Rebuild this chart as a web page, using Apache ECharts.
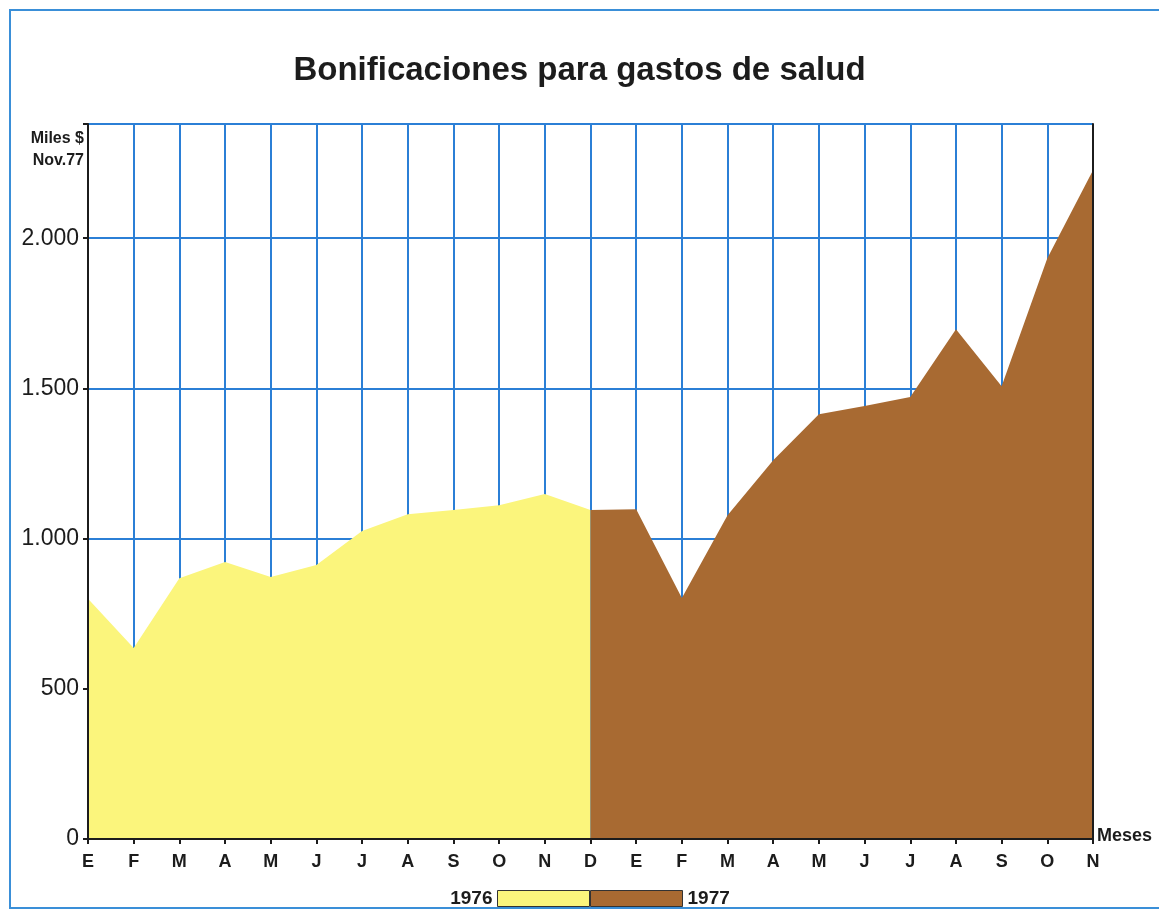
<!DOCTYPE html>
<html>
<head>
<meta charset="utf-8">
<script src="https://cdn.jsdelivr.net/npm/echarts@6/dist/echarts.min.js"></script>
<style>
  html, body { margin: 0; padding: 0; background: #fff; }
  #chart { width: 1159px; height: 913px; }
</style>
</head>
<body>
<div id="chart"></div>
<script>
// meses de 1976 (E..D) y 1977 (E..N)
var meses = ['E', 'F', 'M', 'A', 'M', 'J', 'J', 'A', 'S', 'O', 'N', 'D',
             'E', 'F', 'M', 'A', 'M', 'J', 'J', 'A', 'S', 'O', 'N'];
// valores (miles de $ nov.77)
var datos1976 = [800, 636, 868, 922, 872, 912, 1025, 1081, 1095, 1111, 1148, 1095];
var datos1977 = [1095, 1098, 802, 1078, 1261, 1414, 1441, 1471, 1697, 1507, 1933, 2226];
var yTicks = [0, 500, 1000, 1500, 2000];

var azul = '#2b7fd6';
var negro = '#1c1c1c';
var amarillo = '#fbf57c';
var cafe = '#a86a32';
var fuente = 'Liberation Sans, Arial, sans-serif';

// series alineadas con el eje de categorias
var serie76 = [], serie77 = [];
for (var i = 0; i < meses.length; i++) {
    serie76.push(i < datos1976.length ? datos1976[i] : null);
    var k = i - (datos1976.length - 1);
    serie77.push(k >= 0 ? datos1977[k] : null);
}

function fmtMiles(v) {
    if (yTicks.indexOf(v) < 0) return '';
    if (v >= 1000) {
        var s = String(v);
        return s.slice(0, s.length - 3) + '.' + s.slice(s.length - 3);
    }
    return String(v);
}

var myChart = echarts.init(document.getElementById('chart'));
var option = {
    backgroundColor: '#fff',
    animation: false,
    title: {
        text: 'Bonificaciones para gastos de salud',
        left: 'center',
        top: 49,
        textStyle: { fontFamily: fuente, fontWeight: 'bold', fontSize: 33, color: negro }
    },
    grid: { left: 88, right: 66, top: 124, bottom: 74 },
    legend: [{
        data: [{ name: '1976', icon: 'rect', itemStyle: { color: amarillo, borderColor: '#333', borderWidth: 1 } }],
        right: 569,
        top: 889,
        padding: 0,
        align: 'right',
        itemWidth: 92,
        itemHeight: 16,
        selectedMode: false,
        textStyle: { fontFamily: fuente, fontSize: 19, color: negro, fontWeight: 'bold' }
    }, {
        data: [{ name: '1977', icon: 'rect', itemStyle: { color: cafe, borderColor: '#333', borderWidth: 1 } }],
        left: 590,
        top: 889,
        padding: 0,
        align: 'left',
        itemWidth: 92,
        itemHeight: 16,
        selectedMode: false,
        textStyle: { fontFamily: fuente, fontSize: 19, color: negro, fontWeight: 'bold' }
    }],
    xAxis: [{
        // reticula vertical (debajo de las areas)
        type: 'category',
        data: meses,
        boundaryGap: false,
        axisLine: { show: false },
        axisTick: { show: false },
        axisLabel: { show: false },
        splitLine: { show: true, lineStyle: { color: azul, width: 2 } }
    }, {
        type: 'category',
        data: meses,
        boundaryGap: false,
        position: 'bottom',
        z: 10,
        axisLine: { show: true, lineStyle: { color: negro, width: 2 } },
        axisTick: { show: true, length: 5, lineStyle: { color: negro, width: 2 } },
        axisLabel: {
            interval: 0, margin: 14,
            fontFamily: fuente, fontWeight: 'bold', fontSize: 18, color: negro
        },
        splitLine: { show: false },
        name: 'Meses',
        nameLocation: 'end',
        nameGap: 4,
        nameTextStyle: {
            fontFamily: fuente, fontWeight: 'bold', fontSize: 18, color: negro,
            verticalAlign: 'bottom', padding: [0, 0, -6, 0]
        }
    }, {
        type: 'category',
        data: meses,
        boundaryGap: false,
        position: 'top',
        z: 10,
        axisLine: { show: true, lineStyle: { color: negro, width: 2 } },
        axisTick: { show: false },
        axisLabel: { show: false },
        splitLine: { show: false }
    }],
    yAxis: [{
        type: 'value',
        min: 0, max: 2380, interval: 500,
        axisLine: { show: false },
        axisTick: { show: false },
        axisLabel: { show: false },
        splitLine: { show: true, lineStyle: { color: azul, width: 2 } }
    }, {
        type: 'value',
        min: 0, max: 2380, interval: 500,
        position: 'left',
        z: 10,
        axisLine: { show: true, lineStyle: { color: negro, width: 2 } },
        axisTick: { show: true, length: 5, lineStyle: { color: negro, width: 2 } },
        axisLabel: {
            margin: 9, formatter: fmtMiles,
            fontFamily: fuente, fontSize: 23, color: negro
        },
        splitLine: { show: false }
    }, {
        type: 'value',
        min: 0, max: 2380, interval: 500,
        position: 'right',
        z: 10,
        axisLine: { show: true, lineStyle: { color: negro, width: 2 } },
        axisTick: { show: false },
        axisLabel: { show: false },
        splitLine: { show: false }
    }],
    graphic: [{
        type: 'rect',
        shape: { x: 10, y: 10, width: 1160, height: 898 },
        style: { fill: 'none', stroke: '#3a8fd8', lineWidth: 2 },
        z: 20
    }, {
        type: 'text',
        x: 84, y: 128,
        style: {
            text: 'Miles $\nNov.77',
            align: 'right',
            font: 'bold 16px ' + fuente,
            fill: negro,
            lineHeight: 22
        },
        z: 20
    }],
    series: [{
        name: '1976',
        type: 'line',
        xAxisIndex: 0,
        yAxisIndex: 0,
        data: serie76,
        symbol: 'none',
        lineStyle: { width: 0 },
        itemStyle: { color: amarillo },
        areaStyle: { color: amarillo, opacity: 1 },
        z: 3
    }, {
        name: '1977',
        type: 'line',
        xAxisIndex: 0,
        yAxisIndex: 0,
        data: serie77,
        symbol: 'none',
        lineStyle: { width: 0 },
        itemStyle: { color: cafe },
        areaStyle: { color: cafe, opacity: 1 },
        z: 4
    }]
};
myChart.setOption(option);
</script>
</body>
</html>
